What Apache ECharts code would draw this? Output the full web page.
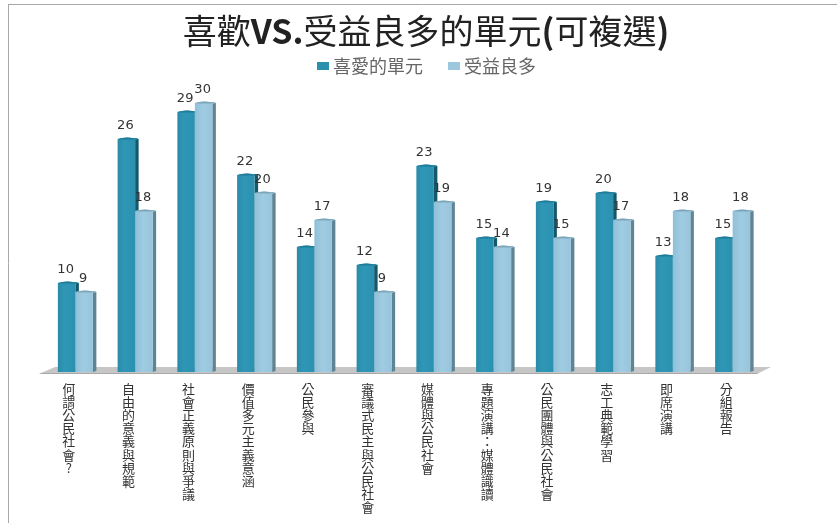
<!DOCTYPE html>
<html>
<head>
<meta charset="utf-8">
<script src="https://cdn.jsdelivr.net/npm/echarts@6/dist/echarts.min.js"></script>
<style>
  html, body { margin: 0; padding: 0; background: #fff; }
  #main { width: 837px; height: 523px; }
</style>
</head>
<body>
<div id="main"></div>
<script>
var categories = ['何謂公民社會?', '自由的意義與規範', '社會正義原則與爭議', '價值多元主義意涵', '公民參與', '審議式民主與公民社會', '媒體與公民社會', '專題演講：媒體識讀', '公民團體與公民社會', '志工典範學習', '即席演講', '分組報告']
var liked = [10, 26, 29, 22, 14, 12, 23, 15, 19, 20, 13, 15]
var benefit = [9, 18, 30, 20, 17, 9, 19, 14, 15, 17, 18, 18]
var font = '"Noto Sans CJK TC", sans-serif'

var myChart = echarts.init(document.getElementById('main'))

// one 3D looking column: front face, right side face, rounded top and value label
function bar3d (offset, front, side, cap) {
  return function (params, api) {
    var top = api.coord([api.value(0), api.value(1)])
    var base = api.coord([api.value(0), 0])
    var w = 17.5
    var x = top[0] + offset
    var s = 3.5
    return {
      type: 'group',
      children: [
        {
          type: 'polygon',
          shape: { points: [[x + w, top[1]], [x + w + s, top[1] + 1], [x + w + s, base[1] - 1], [x + w, base[1]]] },
          style: { fill: side }
        },
        {
          type: 'path',
          shape: {
            pathData: 'M' + x + ' ' + base[1] + 'L' + x + ' ' + (top[1] + 1) +
              'Q' + (x + w / 2) + ' ' + (top[1] - 2) + ' ' + (x + w + s) + ' ' + (top[1] + 1) +
              'L' + (x + w) + ' ' + (top[1] + 2) + 'L' + (x + w) + ' ' + base[1] + 'Z',
            layout: 'none'
          },
          style: { fill: front }
        },
        {
          type: 'path',
          shape: {
            pathData: 'M' + x + ' ' + (top[1] + 1) +
              'Q' + (x + w / 2) + ' ' + (top[1] - 2) + ' ' + (x + w + s) + ' ' + (top[1] + 1) +
              'Q' + (x + w / 2) + ' ' + (top[1] + 2) + ' ' + x + ' ' + (top[1] + 1) + 'Z',
            layout: 'none'
          },
          style: { fill: cap }
        },
        {
          type: 'text',
          x: x + w / 2 - 1,
          y: top[1] - 12,
          style: { text: String(api.value(1)), fill: '#333', font: '13px "DejaVu Sans"', align: 'center', verticalAlign: 'middle' }
        }
      ]
    }
  }
}

var darkFront = new echarts.graphic.LinearGradient(0, 0, 1, 0, [
  { offset: 0, color: '#2a8aa8' }, { offset: 0.3, color: '#2f97b6' }, { offset: 1, color: '#2b8fae' }
])
var lightFront = new echarts.graphic.LinearGradient(0, 0, 1, 0, [
  { offset: 0, color: '#8fc0d8' }, { offset: 0.4, color: '#a0cce2' }, { offset: 1, color: '#93c2da' }
])

var option = {
  animation: false,
  backgroundColor: '#fff',
  graphic: [
    { type: 'line', shape: { x1: 8, y1: 4.5, x2: 837, y2: 4.5 }, style: { stroke: '#a8a8a8', lineWidth: 1 } },
    { type: 'line', shape: { x1: 8.5, y1: 4, x2: 8.5, y2: 523 }, style: { stroke: '#a8a8a8', lineWidth: 1 } }
  ],
  title: {
    text: '喜歡{b|VS.}受益良多的單元{b|(}可複選{b|)}',
    left: 421,
    top: 9,
    textAlign: 'center',
    textStyle: {
      fontFamily: font,
      fontSize: 34,
      fontWeight: 400,
      color: '#222',
      rich: {
        b: { fontFamily: font, fontSize: 34, fontWeight: 700, color: '#222' }
      }
    }
  },
  legend: {
    left: 312,
    top: 52,
    icon: 'rect',
    itemWidth: 12,
    itemHeight: 8,
    itemGap: 25,
    textStyle: { fontFamily: font, fontSize: 18, color: '#666', padding: [0, 0, 0, -1] },
    data: ['喜愛的單元', '受益良多']
  },
  grid: { left: 46, right: 74, top: 102, bottom: 151 },
  xAxis: {
    type: 'category',
    data: categories,
    axisLine: { show: false },
    axisTick: { show: false },
    axisLabel: {
      interval: 0,
      margin: 10,
      padding: [0, 14, 0, 0],
      fontFamily: font,
      fontSize: 13,
      lineHeight: 13.2,
      color: '#333',
      formatter: function (value) { return value.split('').join('\n') }
    }
  },
  yAxis: { type: 'value', min: 0, max: 30, show: false },
  series: [
    {
      name: 'floor',
      type: 'custom',
      silent: true,
      data: [[0, 0]],
      renderItem: function (params, api) {
        var cs = params.coordSys
        var base = cs.y + cs.height
        return {
          type: 'group',
          children: [
            {
              type: 'polygon',
              shape: { points: [[cs.x + 9, base - 5], [cs.x + cs.width + 8, base - 5], [cs.x + cs.width - 4, base + 1], [cs.x - 5, base + 1]] },
              style: { fill: '#c6c6c6' }
            },
            {
              type: 'polygon',
              shape: { points: [[cs.x - 7, base + 2], [cs.x + cs.width - 6, base + 2], [cs.x + cs.width - 4, base + 1], [cs.x - 5, base + 1]] },
              style: { fill: '#a9a9a9' }
            }
          ]
        }
      },
      encode: { x: 0, y: 1 }
    },
    {
      name: '喜愛的單元',
      type: 'custom',
      itemStyle: { color: '#2b8fae' },
      data: liked.map(function (v, i) { return [i, v] }),
      encode: { x: 0, y: 1 },
      renderItem: bar3d(-18, darkFront, '#14586c', '#1f7b97')
    },
    {
      name: '受益良多',
      type: 'custom',
      itemStyle: { color: '#9cc8de' },
      data: benefit.map(function (v, i) { return [i, v] }),
      encode: { x: 0, y: 1 },
      renderItem: bar3d(-0.5, lightFront, '#5f8493', '#7fa6b8')
    }
  ]
}
myChart.setOption(option)
</script>
</body>
</html>
